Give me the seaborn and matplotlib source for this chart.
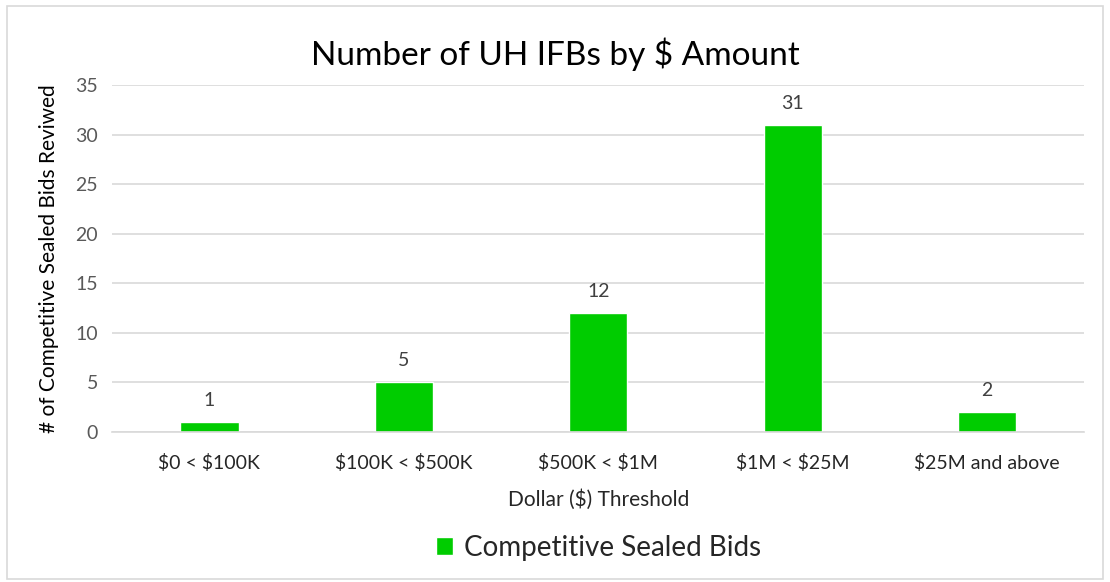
import pandas as pd
import matplotlib.pyplot as plt
import seaborn as sns
from matplotlib.patches import Rectangle

# data
categories = ['$0 < $100K', '$100K < $500K', '$500K < $1M', '$1M < $25M', '$25M and above']
bid_counts = [1, 5, 12, 31, 2]
series_name = 'Competitive Sealed Bids'

df = pd.DataFrame({'Threshold': categories, 'Bids': bid_counts})

sns.set_theme(style='white')
plt.rcParams['font.family'] = ['Lato', 'DejaVu Sans']
plt.rcParams['text.parse_math'] = False

fig = plt.figure(figsize=(11.1, 5.82), dpi=100)
ax = fig.add_axes([0.101, 0.258, 0.876, 0.596])

green = '#00cc00'
sns.barplot(data=df, x='Threshold', y='Bids', color=green, width=0.3,
            edgecolor='white', linewidth=1, saturation=1, ax=ax,
            label=series_name)

# value labels
for i, v in enumerate(bid_counts):
    ax.text(i, v + 1.3, str(v), ha='center', va='bottom', fontsize=14, color='#404040')

ax.set_ylim(0, 35)
ax.set_yticks(range(0, 36, 5))
ax.grid(axis='y', color='#d9d9d9', linewidth=1.2)
ax.set_axisbelow(True)
for s in ['top', 'right', 'left']:
    ax.spines[s].set_visible(False)
ax.spines['bottom'].set_color('#d9d9d9')
ax.spines['bottom'].set_linewidth(1.2)
ax.tick_params(axis='y', labelsize=14, labelcolor='#595959', length=0, pad=10)
ax.tick_params(axis='x', labelsize=14, labelcolor='#262626', length=0, pad=16)

ax.set_xlabel('Dollar ($) Threshold', fontsize=15, color='#262626', labelpad=12)
ax.set_ylabel('# of Competitive Sealed Bids Reviwed', fontsize=15, color='#000000', labelpad=12)
fig.suptitle('Number of UH IFBs by $ Amount', fontsize=24, y=0.935, color='#000000')

leg = ax.legend(loc='upper center', bbox_to_anchor=(0.5, -0.225), frameon=False,
                fontsize=20, handlelength=0.6, handleheight=0.6, handletextpad=0.4)

# chart border
fig.patches.append(Rectangle((0.006, 0.006), 0.988, 0.984, transform=fig.transFigure,
                             fill=False, edgecolor='#d9d9d9', linewidth=1.2))

plt.savefig('out.png', dpi=100)
